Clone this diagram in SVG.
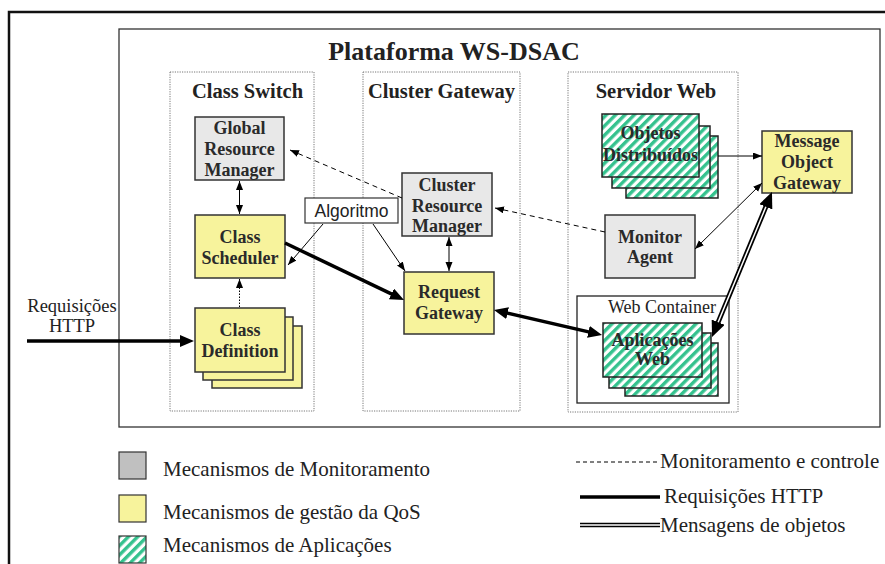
<svg xmlns="http://www.w3.org/2000/svg" width="885" height="564" viewBox="0 0 885 564">
<style>
.serif{font-family:"Liberation Serif","Times New Roman",serif;fill:#222}
.nt{font-family:"Liberation Serif","Times New Roman",serif;font-weight:bold;font-size:18px;fill:#2a2a2a;text-anchor:middle}
.ct{font-family:"Liberation Serif","Times New Roman",serif;font-weight:bold;font-size:20.5px;fill:#222;text-anchor:middle}
.lg{font-family:"Liberation Serif","Times New Roman",serif;font-size:21px;fill:#222}
.gray{fill:#e8e8e8;stroke:#333;stroke-width:1.5}
.yel{fill:#f7f39c;stroke:#333;stroke-width:1.5}
.hat{fill:url(#hatch);stroke:#222;stroke-width:1.5}
.col{fill:none;stroke:#777;stroke-width:1;stroke-dasharray:1.2 1.2}
.thin{fill:none;stroke:#000;stroke-width:1}
.dash{fill:none;stroke:#000;stroke-width:1;stroke-dasharray:5 4}
.thick{fill:none;stroke:#000;stroke-width:3.5}
</style>
<defs>
<pattern id="hatch" patternUnits="userSpaceOnUse" width="6.6" height="6.6" patternTransform="rotate(45)">
<rect width="6.6" height="6.6" fill="#fff"/>
<rect width="3.4" height="6.6" fill="#35c28e"/>
</pattern>
<marker id="ah" markerUnits="userSpaceOnUse" markerWidth="10" markerHeight="8" refX="9" refY="3.5" orient="auto-start-reverse"><path d="M0,0 L9,3.5 L0,7 z" fill="#000"/></marker>
<marker id="ahb" markerUnits="userSpaceOnUse" markerWidth="15" markerHeight="12" refX="8" refY="6" orient="auto-start-reverse"><path d="M0,0 L14,6 L0,12 z" fill="#000"/></marker>
<marker id="ahd" markerUnits="userSpaceOnUse" markerWidth="17" markerHeight="14" refX="8" refY="7" orient="auto-start-reverse"><path d="M0,0 L16,7 L0,14 z" fill="#000"/></marker>
</defs>
<rect width="885" height="564" fill="#fff"/>
<rect x="9" y="12" width="920" height="620" fill="none" stroke="#111" stroke-width="2.5"/>
<g id="plataforma">
<rect x="119" y="29" width="761" height="398" fill="none" stroke="#333" stroke-width="1.3"/>
<text x="454" y="60" class="serif" font-weight="bold" font-size="26" text-anchor="middle">Plataforma WS-DSAC</text>
</g>
<g id="col-class-switch">
<rect x="170" y="72" width="144" height="339" class="col"/>
<text x="247.5" y="98" class="ct">Class Switch</text>
</g>
<g id="col-cluster-gateway">
<rect x="363" y="72" width="157" height="339" class="col"/>
<text x="441.5" y="98" class="ct">Cluster Gateway</text>
</g>
<g id="col-servidor-web">
<rect x="568" y="72" width="170" height="340" class="col"/>
<text x="656" y="98" class="ct">Servidor Web</text>
</g>
<g id="global-resource-manager">
<rect x="195" y="117" width="89" height="63" class="gray"/>
<text x="239.5" y="134" class="nt">Global</text>
<text x="239.5" y="155" class="nt">Resource</text>
<text x="239.5" y="176" class="nt">Manager</text>
</g>
<g id="class-scheduler">
<rect x="195" y="215" width="90" height="63" class="yel"/>
<text x="240" y="243" class="nt">Class</text>
<text x="240" y="264" class="nt">Scheduler</text>
</g>
<g id="class-definition">
<rect x="212" y="326" width="90" height="62" class="yel"/>
<rect x="203" y="317" width="90" height="63" class="yel"/>
<rect x="195" y="308" width="90" height="64" class="yel"/>
<text x="240" y="336" class="nt">Class</text>
<text x="240" y="357" class="nt">Definition</text>
</g>
<g id="algoritmo">
<rect x="305" y="198" width="93" height="25" fill="#fff" stroke="#333" stroke-width="1.2"/>
<text x="351.5" y="217" font-family="Liberation Sans, Arial, sans-serif" font-size="17.5" fill="#222" text-anchor="middle">Algoritmo</text>
</g>
<g id="cluster-resource-manager">
<rect x="402" y="173" width="90" height="63" class="gray"/>
<text x="447" y="191" class="nt">Cluster</text>
<text x="447" y="212" class="nt">Resource</text>
<text x="447" y="232" class="nt">Manager</text>
</g>
<g id="request-gateway">
<rect x="404" y="272" width="90" height="62" class="yel"/>
<text x="449" y="298" class="nt">Request</text>
<text x="449" y="319" class="nt">Gateway</text>
</g>
<g id="objetos-distribuidos">
<rect x="626" y="136" width="92" height="62" class="hat"/>
<rect x="612" y="126" width="98" height="62" class="hat"/>
<rect x="602" y="114" width="97" height="63" class="hat"/>
<text x="650.5" y="139" class="nt">Objetos</text>
<text x="650.5" y="161" class="nt">Distribuídos</text>
</g>
<g id="message-object-gateway">
<rect x="762" y="131" width="90" height="62" class="yel"/>
<text x="807" y="147" class="nt">Message</text>
<text x="807" y="168" class="nt">Object</text>
<text x="807" y="189" class="nt">Gateway</text>
</g>
<g id="monitor-agent">
<rect x="605" y="215" width="90" height="63" class="gray"/>
<text x="650" y="243" class="nt">Monitor</text>
<text x="650" y="263" class="nt">Agent</text>
</g>
<g id="web-container">
<rect x="577" y="296" width="152" height="107" fill="#fff" stroke="#222" stroke-width="1.3"/>
<text x="662" y="313" class="serif" font-size="18" text-anchor="middle">Web Container</text>
</g>
<g id="aplicacoes-web">
<rect x="625" y="343" width="93" height="53" class="hat"/>
<rect x="609" y="333" width="102" height="55" class="hat"/>
<rect x="603" y="323" width="99" height="54" class="hat"/>
<text x="652.5" y="346" class="nt">Aplicações</text>
<text x="652.5" y="365" class="nt">Web</text>
</g>
<g id="requisicoes-label">
<text x="72" y="312" class="serif" font-size="18.5" text-anchor="middle">Requisições</text>
<text x="72" y="332" class="serif" font-size="18.5" text-anchor="middle">HTTP</text>
</g>
<g id="connectors">
<line x1="239.5" y1="181" x2="239.5" y2="214" class="thin" marker-start="url(#ah)" marker-end="url(#ah)"/>
<line x1="239.5" y1="307" x2="239.5" y2="279" class="thin" stroke-dasharray="1.5 1.5" marker-end="url(#ah)"/>
<line x1="449" y1="237" x2="449" y2="271" class="thin" marker-start="url(#ah)" marker-end="url(#ah)"/>
<line x1="323" y1="224" x2="288" y2="265" class="thin" marker-end="url(#ah)"/>
<line x1="373" y1="224" x2="405" y2="271" class="thin" marker-end="url(#ah)"/>
<line x1="402" y1="198" x2="290" y2="150" class="dash" marker-end="url(#ah)"/>
<line x1="605" y1="232" x2="495" y2="208" class="dash" marker-end="url(#ah)"/>
<line x1="718" y1="156" x2="762" y2="156" class="thin" stroke-width="2" marker-end="url(#ah)"/>
<line x1="695" y1="249" x2="762" y2="183" class="thin" marker-start="url(#ah)" marker-end="url(#ah)"/>
<line x1="27" y1="341" x2="188" y2="341" class="thick" marker-end="url(#ahb)"/>
<line x1="285" y1="243" x2="398.6" y2="297.4" class="thick" marker-end="url(#ahb)"/>
<line x1="499.8" y1="311.4" x2="596.2" y2="333.6" class="thick" marker-start="url(#ahb)" marker-end="url(#ahb)"/>
<line x1="768.9" y1="199.4" x2="715.1" y2="329.6" stroke="#000" stroke-width="5" marker-start="url(#ahd)" marker-end="url(#ahd)"/>
<line x1="765.9" y1="206.8" x2="718.1" y2="322.2" stroke="#fff" stroke-width="1.5"/>
</g>
<g id="legend">
<rect x="119" y="452" width="27" height="27" fill="#c0c0c0" stroke="#333" stroke-width="1.2"/>
<text x="163" y="476" class="lg">Mecanismos de Monitoramento</text>
<rect x="119" y="495" width="27" height="27" fill="#f7f39c" stroke="#333" stroke-width="1.2"/>
<text x="163" y="519" class="lg">Mecanismos de gestão da QoS</text>
<rect x="119" y="536" width="27" height="27" fill="url(#hatch)" stroke="#333" stroke-width="1.2"/>
<text x="163" y="552" class="lg">Mecanismos de Aplicações</text>
<line x1="576" y1="462" x2="658" y2="462" stroke="#000" stroke-width="1" stroke-dasharray="4 3"/>
<text x="660" y="468" class="lg">Monitoramento e controle</text>
<line x1="580" y1="497" x2="660" y2="497" stroke="#000" stroke-width="3.5"/>
<text x="664" y="503" class="lg">Requisições HTTP</text>
<line x1="580" y1="525" x2="660" y2="525" stroke="#000" stroke-width="4.5"/>
<line x1="580" y1="525" x2="660" y2="525" stroke="#fff" stroke-width="1.5"/>
<text x="660" y="532" class="lg">Mensagens de objetos</text>
</g>
</svg>
